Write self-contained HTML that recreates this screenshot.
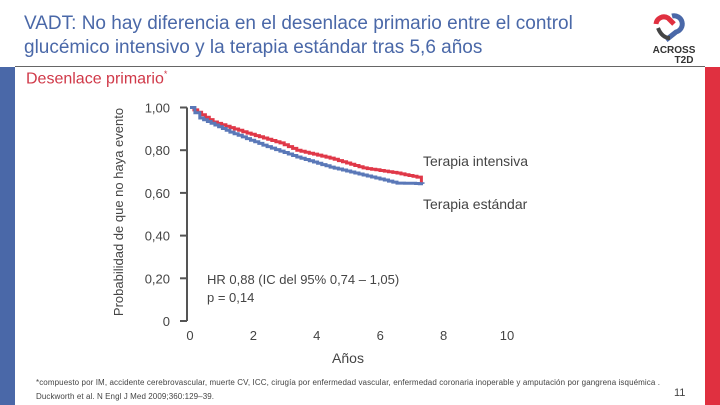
<!DOCTYPE html>
<html><head><meta charset="utf-8"><style>
body{margin:0;width:720px;height:405px;background:#fff;position:relative;overflow:hidden;font-family:"Liberation Sans",sans-serif}
.abs{position:absolute}
</style></head><body>
<div class="abs" style="left:24px;top:12px;font-size:19px;line-height:24px;color:#4a68a8;width:600px">VADT: No hay diferencia en el desenlace primario entre el control glucémico intensivo y la terapia estándar tras 5,6 años</div>
<div class="abs" style="left:648px;top:8px;width:52px;height:56px">
<svg width="52" height="56"><path d="M8 16 A8 8 0 0 1 20 10 L26 16" stroke="#e03040" stroke-width="5" fill="none"/><path d="M24 8 A8 8 0 1 1 28 24 L18 32" stroke="#4a68a8" stroke-width="5" fill="none"/><path d="M10 20 Q14 30 22 30" stroke="#444" stroke-width="4" fill="none"/>
<text x="26" y="45" font-size="10" font-weight="bold" text-anchor="middle" fill="#333" font-family="Liberation Sans">ACROSS</text><text x="36" y="55" font-size="10" font-weight="bold" text-anchor="middle" fill="#333" font-family="Liberation Sans">T2D</text></svg></div>
<div class="abs" style="left:0;top:67px;width:15px;height:338px;background:#4a68a8"></div>
<div class="abs" style="left:705px;top:67px;width:15px;height:338px;background:#e03040"></div>
<div class="abs" style="left:15px;top:66px;width:690px;height:1px;background:#666"></div>
<div class="abs" style="left:26px;top:69px;font-size:16px;color:#d03848">Desenlace primario<sup style="font-size:9px">*</sup></div>
<svg class="abs" style="left:0;top:0" width="720" height="405">
<g id="axes"></g><g id="series"></g>
<text x="0" y="0" transform="translate(123,212) rotate(-90)" text-anchor="middle" font-size="13" fill="#444" font-family="Liberation Sans">Probabilidad de que no haya evento</text>
<text x="348" y="363" text-anchor="middle" font-size="14" fill="#444" font-family="Liberation Sans">Años</text>
<text x="423" y="166" font-size="14" fill="#444" font-family="Liberation Sans">Terapia intensiva</text>
<text x="423" y="209" font-size="14" fill="#444" font-family="Liberation Sans">Terapia estándar</text>
<text x="207" y="284" font-size="13" fill="#444" font-family="Liberation Sans">HR 0,88 (IC del 95% 0,74 – 1,05)</text>
<text x="207" y="302" font-size="13" fill="#444" font-family="Liberation Sans">p = 0,14</text>
<text x="36" y="385" font-size="8" fill="#444" font-family="Liberation Sans" textLength="624" lengthAdjust="spacing">*compuesto por IM, accidente cerebrovascular, muerte CV, ICC, cirugía por enfermedad vascular, enfermedad coronaria inoperable y amputación por gangrena isquémica .</text>
<text x="36" y="399" font-size="8" fill="#444" font-family="Liberation Sans" textLength="178" lengthAdjust="spacing">Duckworth et al. N Engl J Med 2009;360:129–39.</text>
<text x="674" y="396" font-size="11" fill="#444" font-family="Liberation Sans">11</text>
</svg>
<script>
const yTicks=[0,0.2,0.4,0.6,0.8,1.0];
const yTickLabels=["0","0,20","0,40","0,60","0,80","1,00"];
const xTicks=[0,2,4,6,8,10];
const xTickLabels=["0","2","4","6","8","10"];
const intensiveT=[0,0.73,1.8,2.84,3.37,4.42,5.46,6.53,7.16,7.3,7.3];
const intensiveV=[1,0.932,0.88,0.834,0.80,0.763,0.717,0.693,0.674,0.672,0.646];
const standardT=[0,0.31,1.26,2.3,3.37,4.42,5.46,6.53,7.0,7.35];
const standardV=[1,0.951,0.885,0.824,0.768,0.721,0.684,0.646,0.645,0.642];
const NS="http://www.w3.org/2000/svg";
const xs=t=>190+t*31.7, ys=v=>321-v*213.5;
const ax=document.getElementById('axes'), se=document.getElementById('series');
function mk(tag,attrs,parent){const e=document.createElementNS(NS,tag);for(const k in attrs)e.setAttribute(k,attrs[k]);parent.appendChild(e);return e;}
let yl=mk('line',{x1:187,x2:187,y1:ys(1),y2:ys(0),stroke:'#555','stroke-width':2},ax);


yTicks.forEach((v,i)=>{
 const tk=mk('line',{x1:180,x2:187,y1:ys(v),y2:ys(v),stroke:'#555','stroke-width':2},ax);
 
 
 const t=mk('text',{x:170,y:ys(v)+5,'text-anchor':'end','font-size':13,fill:'#444','font-family':'Liberation Sans'},ax);
 t.textContent=yTickLabels[i];
 
 
});
xTicks.forEach((v,i)=>{
 const t=mk('text',{x:xs(v),y:340,'text-anchor':'middle','font-size':13,fill:'#444','font-family':'Liberation Sans'},ax);
 t.textContent=xTickLabels[i];
 
 
});
function step(T,V){let d='M'+xs(T[0])+' '+ys(V[0]);for(let i=1;i<T.length;i++){const x0=xs(T[i-1]),x1=xs(T[i]);const n=Math.max(1,Math.round((x1-x0)/4));for(let k=1;k<=n;k++){const x=x0+(x1-x0)*k/n;const v=V[i-1]+(V[i]-V[i-1])*k/n;d+=' H'+x.toFixed(1)+' V'+ys(v).toFixed(1);}}return d;}
const r=mk('path',{d:step(intensiveT,intensiveV),stroke:'#e03848',fill:'none','stroke-width':3},se);


const b=mk('path',{d:step(standardT,standardV),stroke:'#5a78b8',fill:'none','stroke-width':3},se);


</script>
</body></html>
